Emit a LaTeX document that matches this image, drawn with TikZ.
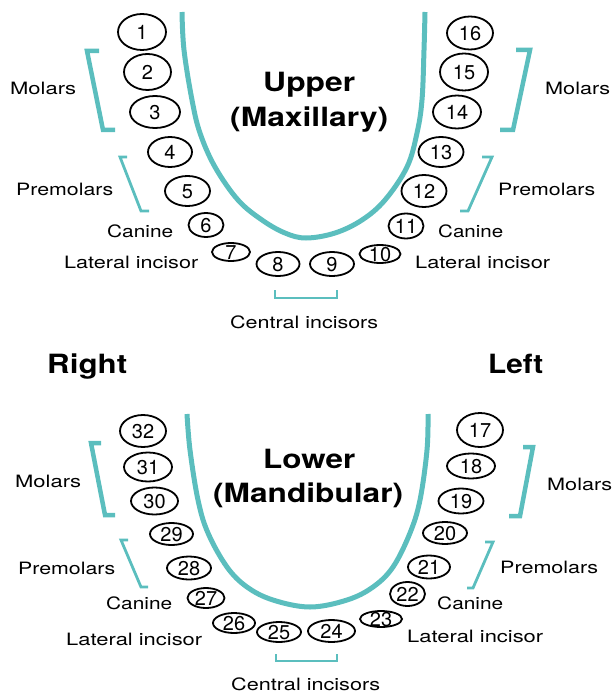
\documentclass[tikz,border=0pt]{standalone}
\usepackage{fontspec}
\setmainfont{TeX Gyre Heros}
\usetikzlibrary{shapes.geometric}
\definecolor{teal1}{RGB}{91,190,190}
\newcommand{\sw}[2]{\resizebox{#1pt}{\height}{#2}}
\newcommand{\tnum}[1]{\makebox[0pt]{\raisebox{-0.36em}[0pt][0pt]{#1}}}
\newcommand{\tooth}[5]{\node[tooth, minimum width=#4pt, minimum height=#5pt] (t#1) at (#2,#3) {\tnum{#1}};}
\tikzset{
 tooth/.style={ellipse, draw, line width=1.8pt, inner sep=0pt, font=\fontsize{20}{20}\selectfont},
 lbl/.style={inner sep=0pt, anchor=base west, font=\fontsize{17}{17}\selectfont},
 ttl/.style={inner sep=0pt, anchor=base west, font=\fontsize{26.5}{26.5}\selectfont\bfseries},
 arch/.style={teal1, line width=5pt},
 bigbr/.style={teal1, line width=4.5pt},
 smallbr/.style={teal1, line width=2.8pt},
}
\begin{document}
\begin{tikzpicture}[x=1pt,y=-1pt]
\useasboundingbox (0,0) rectangle (614,695);
% arches
\draw[arch] plot[smooth, tension=0.6] coordinates {(182,12) (184,50) (192,100) (200,133) (215,167) (238,200) (262,220) (285,233) (306,238) (335,233) (362,220) (385,200) (407,167) (417,133) (422,100) (424,50) (425,12)};
\draw[arch] plot[smooth, tension=0.6] coordinates {(187,414) (190,450) (198,500) (208,533) (227,567) (247,587) (273,600) (310,607) (347,600) (373,587) (393,567) (410,533) (420,500) (427,450) (428,414)};
% upper teeth
\tooth{1}{142}{32}{48}{36}
\tooth{2}{147.5}{72}{47}{36}
\tooth{3}{155}{112}{50}{32}
\tooth{4}{170}{152}{44}{30}
\tooth{5}{187.5}{191}{45}{30}
\tooth{6}{206}{225}{35}{24}
\tooth{7}{231}{252}{38}{18}
\tooth{8}{278}{264}{43}{24}
\tooth{9}{332}{264}{44}{24}
\tooth{10}{380}{254}{41}{18}
\tooth{11}{406}{226}{35}{25}
\tooth{12}{424}{191}{45}{32}
\tooth{13}{441}{152}{45}{30}
\tooth{14}{457}{112}{48}{33}
\tooth{15}{464}{72}{48}{37}
\tooth{16}{470}{33}{46}{33}
% lower teeth
\tooth{32}{143}{431}{46}{32}
\tooth{31}{148}{467}{48}{29}
\tooth{30}{154.5}{501}{47}{27}
\tooth{29}{171.5}{534}{43}{22}
\tooth{28}{189}{568}{44}{23}
\tooth{27}{206}{598}{37}{20}
\tooth{26}{234}{623}{42}{20}
\tooth{25}{279}{632}{44}{20}
\tooth{24}{331.5}{631}{47}{22}
\tooth{23}{381}{619}{42}{16}
\tooth{22}{407.5}{594}{35}{24}
\tooth{21}{429}{567}{42}{23}
\tooth{20}{445}{533}{44}{22}
\tooth{19}{461}{501}{45}{25}
\tooth{18}{471}{466}{48}{25}
\tooth{17}{480}{430}{46}{34}
% brackets upper
\draw[bigbr] (99,51) -- (87,51) -- (103,130) -- (115,130);
\draw[smallbr] (127,157) -- (120,157) -- (141,211) -- (149,211);
\draw[bigbr] (516,50) -- (530,50) -- (513,130) -- (500,130);
\draw[smallbr] (482,157) -- (492,157) -- (468,211) -- (460,211);
\draw[smallbr] (275,290) -- (275,298) -- (337,298) -- (337,290);
% brackets lower
\draw[bigbr] (101,443) -- (91,443) -- (105,515) -- (115,515);
\draw[smallbr] (128,540) -- (121,540) -- (141,587) -- (148,587);
\draw[bigbr] (523,447) -- (533,447) -- (520,516) -- (509,516);
\draw[smallbr] (485,542) -- (493,542) -- (473,588) -- (467,588);
\draw[smallbr] (276,654) -- (276,661) -- (337,661) -- (337,654);
% titles
\node[ttl] (upper) at (263,92) {\sw{92}{Upper}};
\node[ttl] (maxil) at (230,127) {\sw{158}{(Maxillary)}};
\node[ttl] (lower) at (263,468) {\sw{92}{Lower}};
\node[ttl] (mandi) at (213,502) {\sw{190}{(Mandibular)}};
\node[ttl] (right) at (47,373) {\sw{80}{Right}};
\node[ttl] (left) at (488,373) {\sw{55}{Left}};
% upper labels
\node[lbl] (umolL) at (10,95) {\sw{66}{Molars}};
\node[lbl] (upreL) at (16,195) {\sw{97}{Premolars}};
\node[lbl] (ucanL) at (107,237) {\sw{66}{Canine}};
\node[lbl] (ulatL) at (64,268) {\sw{134}{Lateral incisor}};
\node[lbl] (ucen) at (230,328) {\sw{148}{Central incisors}};
\node[lbl] (umolR) at (545,95) {\sw{65}{Molars}};
\node[lbl] (upreR) at (498,195) {\sw{97}{Premolars}};
\node[lbl] (ucanR) at (438,237) {\sw{65}{Canine}};
\node[lbl] (ulatR) at (415,268) {\sw{135}{Lateral incisor}};
% lower labels
\node[lbl] (lmolL) at (15,487) {\sw{66}{Molars}};
\node[lbl] (lpreL) at (18,574) {\sw{97}{Premolars}};
\node[lbl] (lcanL) at (106,609) {\sw{66}{Canine}};
\node[lbl] (llatL) at (66,645) {\sw{136}{Lateral incisor}};
\node[lbl] (lcen) at (231,690) {\sw{149}{Central incisors}};
\node[lbl] (lmolR) at (547,490) {\sw{65}{Molars}};
\node[lbl] (lpreR) at (500,573) {\sw{98}{Premolars}};
\node[lbl] (lcanR) at (437,609) {\sw{66}{Canine}};
\node[lbl] (llatR) at (407,642) {\sw{136}{Lateral incisor}};
\end{tikzpicture}
\end{document}
